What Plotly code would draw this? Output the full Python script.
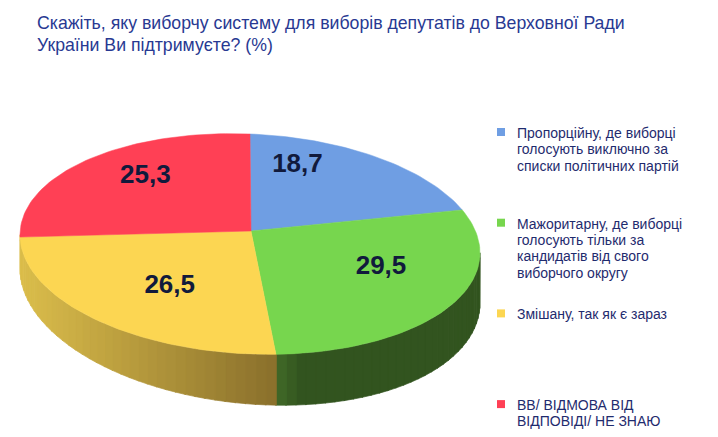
import math
import plotly.graph_objects as go

# ---- data ----
categories = [
    "Пропорційну, де виборці голосують виключно за списки політичних партій",
    "Мажоритарну, де виборці голосують тільки за кандидатів від свого виборчого округу",
    "Змішану, так як є зараз",
    "ВВ/ ВІДМОВА ВІД ВІДПОВІДІ/ НЕ ЗНАЮ",
]
legend_lines = [
    ["Пропорційну, де виборці", "голосують виключно за", "списки політичних партій"],
    ["Мажоритарну, де виборці", "голосують тільки за", "кандидатів від свого", "виборчого округу"],
    ["Змішану, так як є зараз"],
    ["ВВ/ ВІДМОВА ВІД", "ВІДПОВІДІ/ НЕ ЗНАЮ"],
]
values = [18.7, 29.5, 26.5, 25.3]
value_labels = ["18,7", "29,5", "26,5", "25,3"]
title_lines = [
    "Скажіть, яку виборчу систему для виборів депутатів до Верховної Ради",
    "України Ви підтримуєте? (%)",
]

# ---- style ----
top_colors = ["#6f9ee3", "#77d64e", "#fcd652", "#ff4055"]
side_dark = [(60, 90, 140), (50, 84, 31), (138, 112, 44), (150, 30, 40)]
side_light = [(90, 130, 190), (66, 106, 41), (220, 190, 76), (200, 45, 55)]
label_angle_shift = [-15, -3, -8, 0]  # degrees, label placement tweak
LABEL_DY = -9
TEXT_NAVY = "#1f2b6e"
TITLE_BLUE = "#283992"
LABEL_COLOR = "#111a3c"
FONT = "Liberation Sans, Arial, sans-serif"

W, H = 718, 437
CX, CY, RX, RY, TILT = 250, 244, 230, 110, 9
MX, MY = 251, 231  # apex of slices


def depth(th):
    return 42 + 8 * math.sin(th) + 8 * max(0.0, -math.cos(th))


def rim(th, z=0.0):
    x = CX + RX * math.sin(th)
    y = CY - RY * math.cos(th) + TILT * math.sin(th) + z * depth(th)
    return x, y


def arc(a, b, n=None):
    if n is None:
        n = max(4, int(abs(b - a) / math.radians(1.5)))
    return [a + (b - a) * i / n for i in range(n + 1)]


total = sum(values)
bounds = [0.0]
for v in values:
    bounds.append(bounds[-1] + v / total * 2 * math.pi)

fig = go.Figure()

# side walls (front half only)
lo_v, hi_v = math.pi / 2, 3 * math.pi / 2
for i in range(len(values)):
    a, b = max(bounds[i], lo_v), min(bounds[i + 1], hi_v)
    if b - a < math.radians(3):
        continue
    if i == 2:
        b = hi_v  # yellow wall reaches the left edge
    nstrip = max(1, int((b - a) / math.radians(2.5)))
    xa, xb = rim(a)[0], rim(b)[0]
    for s in range(nstrip):
        sa = a + (b - a) * s / nstrip
        sb = a + (b - a) * (s + 1) / nstrip
        xm = rim((sa + sb) / 2)[0]
        if i == 2:
            tt = (xa - xm) / (xa - xb)  # light toward the left edge
        else:
            tt = 1 - (xm - xb) / 25.0  # light band at the seam
        tt = max(0.0, min(1.0, tt))
        c = tuple(int(side_dark[i][k] + (side_light[i][k] - side_dark[i][k]) * tt) for k in range(3))
        col = "rgb(%d,%d,%d)" % c
        ths = arc(sa - 0.002, sb + 0.002, 4)
        pts = [rim(th, 0) for th in ths] + [rim(th, 1) for th in reversed(ths)]
        fig.add_trace(go.Scatter(
            x=[p[0] for p in pts] + [pts[0][0]], y=[p[1] for p in pts] + [pts[0][1]],
            mode="lines", fill="toself", fillcolor=col,
            line=dict(color=col, width=0.7), hoverinfo="skip", showlegend=False))

# top faces
for i in range(len(values)):
    ths = arc(bounds[i], bounds[i + 1])
    pts = [(MX, MY)] + [rim(th) for th in ths] + [(MX, MY)]
    fig.add_trace(go.Scatter(
        x=[p[0] for p in pts], y=[p[1] for p in pts],
        mode="lines", fill="toself", fillcolor=top_colors[i],
        line=dict(color=top_colors[i], width=0.5), hoverinfo="skip", showlegend=False))

# value labels
lx, ly = [], []
for i in range(len(values)):
    mid = (bounds[i] + bounds[i + 1]) / 2 + math.radians(label_angle_shift[i])
    px, py = rim(mid)
    f = 0.64
    lx.append(MX + f * (px - MX))
    ly.append(MY + f * (py - MY) + LABEL_DY)
fig.add_trace(go.Scatter(
    x=lx, y=ly, mode="text", text=value_labels,
    textfont=dict(family=FONT, size=26, color=LABEL_COLOR, weight="bold"),
    hoverinfo="skip", showlegend=False))

# legend
annotations = []
sq_x, sq_y = [], []
for i, lines in enumerate(legend_lines):
    y0 = 133 + i * 90.7
    sq_x.append(501)
    sq_y.append(y0 - 1)
    for j, line in enumerate(lines):
        annotations.append(dict(
            x=515, y=y0 + j * 16.3, xref="x", yref="y", text=line, showarrow=False,
            xanchor="left", yanchor="middle",
            font=dict(family=FONT, size=14, color=TEXT_NAVY)))
fig.add_trace(go.Scatter(
    x=sq_x, y=sq_y, mode="markers",
    marker=dict(symbol="square", size=8, color=top_colors, line=dict(width=0)),
    hoverinfo="skip", showlegend=False))

for j, line in enumerate(title_lines):
    annotations.append(dict(
        x=35, y=23 + j * 22, xref="x", yref="y", text=line, showarrow=False,
        xanchor="left", yanchor="middle",
        font=dict(family=FONT, size=17.7, color=TITLE_BLUE)))

fig.update_layout(
    width=W, height=H, margin=dict(l=0, r=0, t=0, b=0),
    paper_bgcolor="white", plot_bgcolor="white",
    xaxis=dict(range=[0, W], visible=False, fixedrange=True),
    yaxis=dict(range=[H, 0], visible=False, fixedrange=True),
    annotations=annotations, showlegend=False,
)

fig.write_html("out.html", post_script="document.body.style.margin='0';",
               config={"displayModeBar": False})
